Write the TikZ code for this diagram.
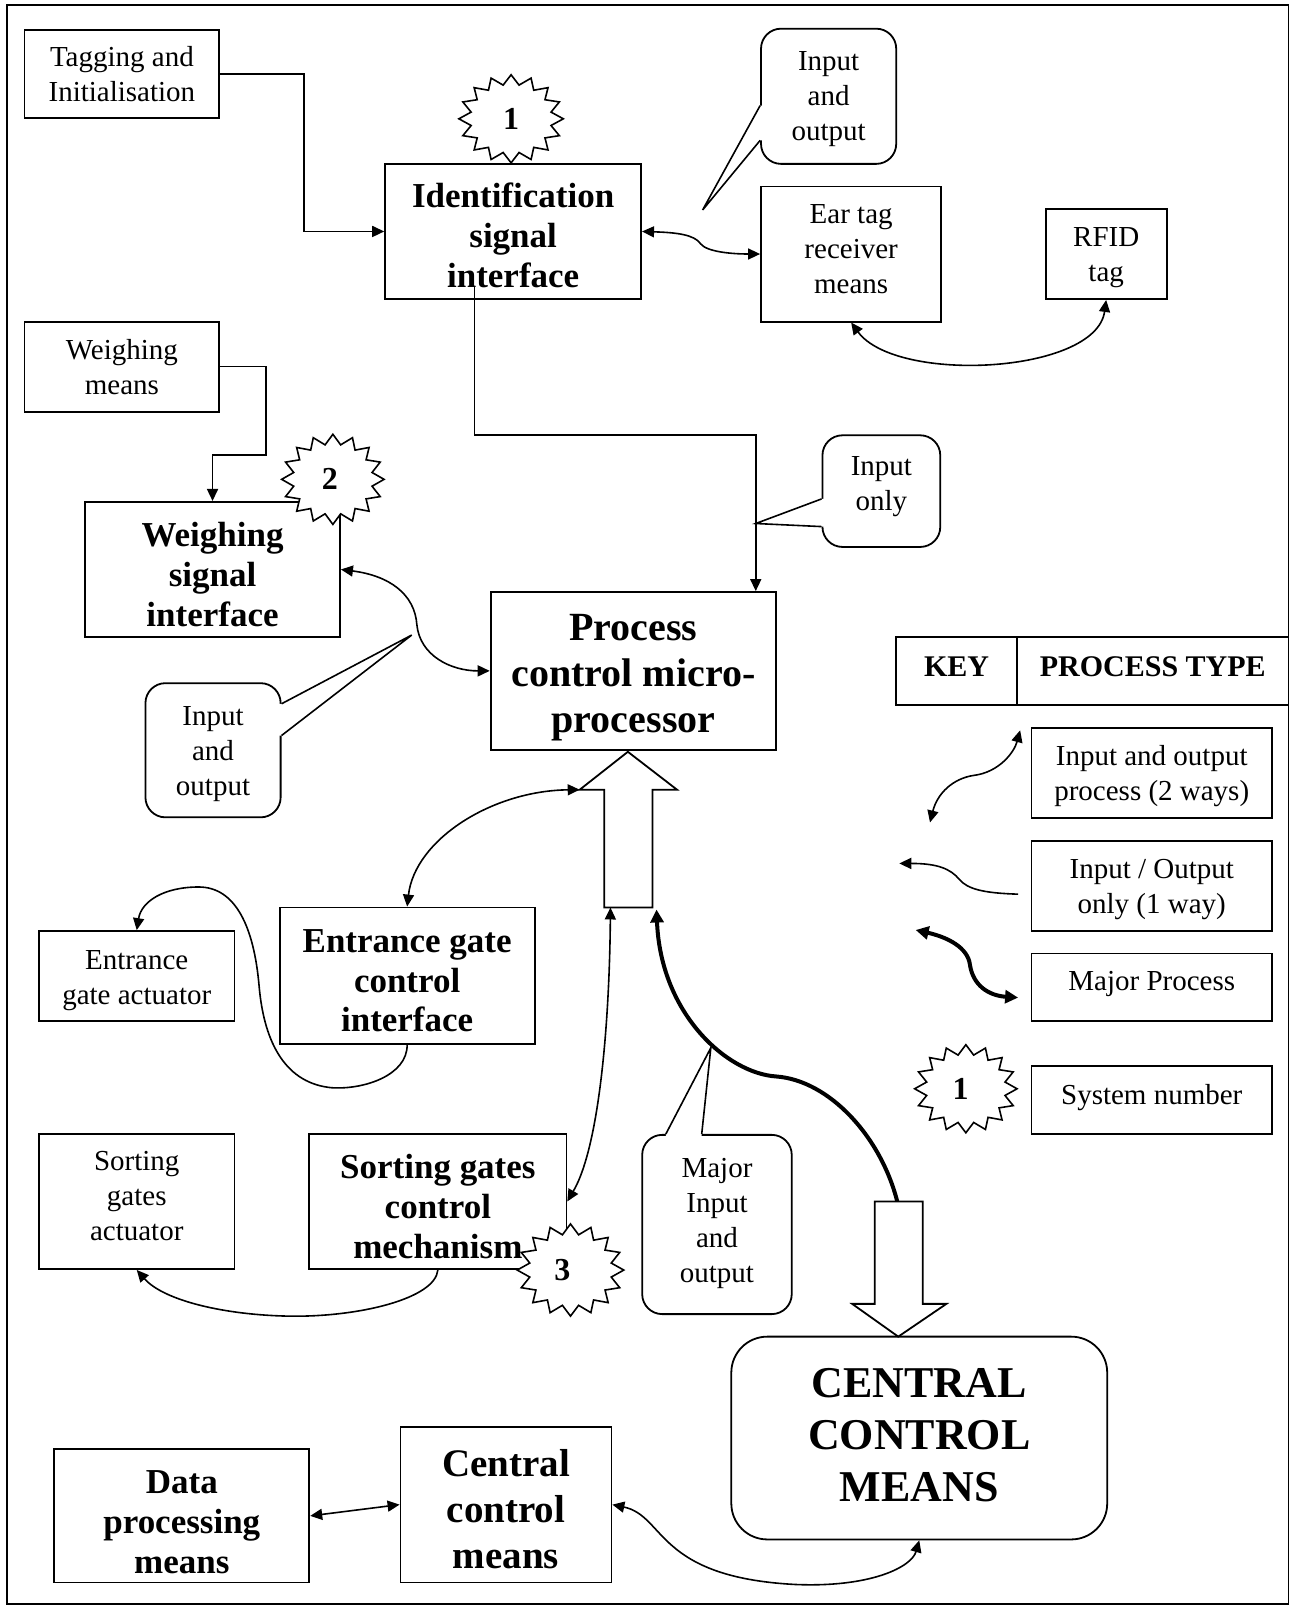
\documentclass[tikz,border=0pt]{standalone}
\usepackage{fontspec}
\setmainfont{Liberation Serif}
\usetikzlibrary{arrows.meta,calc}
\newdimen\myux \myux=0.51225pt
% box with separate text node: [box opts]{name}{x1}{y1}{x2}{y2}{text style}{dy}{text}
\newcommand\bxn[9][]{%
  \node[bx,#1,minimum width={(#5-#3)*\myux},minimum height={(#6-#4)*\myux}] (#2) at ({(#3+#5)/2},{(#4+#6)/2}) {};
  \node[#7,align=center,inner sep=0pt] (#2-t) at ({(#3+#5)/2},{(#4+#6)/2+#8}) {#9};}
% star: {name}{cx}{cy}{rx}{ry}{dx}{digit}
\newcommand\starb[7]{%
  \draw[ln,fill=white,line join=miter] plot[samples at={0,...,31}] ({#2+#4*(0.89+0.11*cos(\x*180))*cos(90+\x*11.25)},{#3+#5*(0.89+0.11*cos(\x*180))*sin(90+\x*11.25)}) -- cycle;
  \node[font=\fontsize{16}{18}\selectfont\bfseries,inner sep=0pt] (#1) at (#2+#6,#3) {#7};}
% callout tail: a1, tip, a2, inward vector
\newcommand\ctail[4]{%
  \fill[white] #1 -- #2 -- #3 -- ($#3+#4$) -- ($#1+#4$) -- cycle;
  \draw[ln,line join=miter] #1 -- #2 -- #3;}
\begin{document}
\begin{tikzpicture}[x=0.51225pt,y=-0.51225pt,
  bx/.style={draw,line width=0.9pt,inner sep=0pt,fill=white},
  rg/.style={font=\fontsize{14.5}{17.5}\selectfont},
  bd/.style={font=\fontsize{17.5}{20}\selectfont\bfseries},
  kf/.style={font=\fontsize{15}{18}\selectfont\bfseries},
  ln/.style={line width=0.8pt},
  arr/.style={ln,-{Triangle[length=6pt,width=5.5pt]}},
  darr/.style={ln,{Triangle[length=6pt,width=5.5pt]}-{Triangle[length=6pt,width=5.5pt]}},
  thk/.style={line width=2pt,-{Triangle[length=6.5pt,width=6.5pt]}},
  thkd/.style={line width=2pt,{Triangle[length=6.5pt,width=6.5pt]}-{Triangle[length=6.5pt,width=6.5pt]}},
  bigarr/.style={line width=0.9pt,fill=white,line join=miter}]
\useasboundingbox (0,0) rectangle (1265,1568);
\draw[line width=0.9pt] (7,5) rectangle (1258,1566);

% boxes
\bxn{tag}{24}{29}{214}{115}{rg}{0}{Tagging and\\Initialisation}
\bxn{ident}{376}{160}{626}{292}{bd}{4}{Identification\\signal\\interface}
\bxn[rounded corners=10pt]{co1}{743}{28}{875}{160}{rg}{3}{Input\\and\\output}
\bxn{ear}{743}{182}{919}{314}{rg}{-5}{Ear tag\\receiver\\means}
\bxn{rfid}{1021}{204}{1139}{292}{rg}{4}{RFID\\tag}
\bxn{wm}{24}{314}{214}{402}{rg}{0}{Weighing\\means}
\bxn{ws}{83}{490}{332}{622}{bd}{5}{Weighing\\signal\\interface}
\bxn[rounded corners=10pt]{co2}{803}{425}{918}{534}{rg}{-4}{Input\\only}
\bxn{proc}{479}{578}{758}{732}{font=\fontsize{20}{23}\selectfont\bfseries}{7}{Process\\control micro-\\processor}
\bxn[rounded corners=10pt]{co3}{142}{667}{274}{798}{rg}{4}{Input\\and\\output}
\bxn{key}{875}{622}{993}{688}{kf}{-4}{KEY}
\bxn{ptype}{993}{622}{1258}{688}{kf}{-4}{PROCESS TYPE}
\bxn{lg1}{1007}{711}{1242}{799}{rg}{3}{Input and output\\process (2 ways)}
\bxn{lg2}{1007}{821}{1242}{909}{rg}{3}{Input / Output\\only (1 way)}
\bxn{lg3}{1007}{931}{1242}{997}{rg}{-3}{Major Process}
\bxn{lg4}{1007}{1041}{1242}{1107}{rg}{-2}{System number}
\bxn{eg}{273}{886}{522}{1019}{bd}{5}{Entrance gate\\control\\interface}
\bxn{ea}{38}{909}{229}{997}{rg}{4}{Entrance\\gate actuator}
\bxn{sa}{38}{1107}{229}{1239}{rg}{-5}{Sorting\\gates\\actuator}
\bxn{sg}{302}{1107}{553}{1239}{bd}{5}{Sorting gates\\control\\mechanism}
\bxn[rounded corners=10pt]{co4}{627}{1108}{773}{1283}{rg}{-1}{Major\\Input\\and\\output}
\bxn[rounded corners=18pt]{cen}{714}{1305}{1081}{1503}{font=\fontsize{22}{26}\selectfont\bfseries}{-3}{CENTRAL\\CONTROL\\MEANS}
\bxn{cc}{391}{1393}{597}{1545}{font=\fontsize{19.5}{23}\selectfont\bfseries}{4}{Central\\control\\means}
\bxn{dp}{53}{1415}{302}{1545}{bd}{6}{Data\\processing\\means}

% callout tails
\coordinate (c1a) at ($(co1.north west)+(0,76)$);
\coordinate (c1b) at ($(co1.north west)+(0,110)$);
\coordinate (c1t) at (686,205);
\ctail{(c1a)}{(c1t)}{(c1b)}{(3,0)}
\coordinate (c2a) at ($(co2.north west)+(0,63)$);
\coordinate (c2b) at ($(co2.north west)+(0,90)$);
\coordinate (c2t) at ($(proc.north east)+(-21,-66)$);
\ctail{(c2a)}{(c2t)}{(c2b)}{(3,0)}
\coordinate (c3a) at ($(co3.north east)+(0,21)$);
\coordinate (c3b) at ($(co3.north east)+(0,52)$);
\coordinate (c3t) at (402,620);
\ctail{(c3a)}{(c3t)}{(c3b)}{(-3,0)}
\coordinate (c4a) at ($(co4.north west)+(24,0)$);
\coordinate (c4b) at ($(co4.north west)+(59,0)$);
\coordinate (c4t) at (694,1023);
\ctail{(c4a)}{(c4t)}{(c4b)}{(0,3)}

% stars
\starb{st1}{499}{116}{51}{43}{0}{1}
\starb{st2}{325}{468}{50}{44}{-3}{2}
\starb{st3}{557}{1240}{52}{45}{-8}{3}
\starb{st4}{943}{1063}{50}{43}{-5}{1}

% big hollow arrows
\draw[bigarr] (590,886) -- (590,771) -- (566,771) -- (613,734) -- (661,771) -- (637,771) -- (637,886) -- cycle;
\coordinate (upL) at (566,771);
\coordinate (upBL) at (596,886);
\coordinate (upBR) at (641,888);
\draw[bigarr] (854,1173) -- (854,1273) -- (832,1273) -- (877,1305) -- (924,1273) -- (901,1273) -- (901,1173) -- cycle;
\coordinate (dnTop) at (876,1173);

% connectors
\draw[arr] (tag.east) -- ++(82,0) |- (ident.west);
\draw[darr] (ident.east) .. controls (660,227) and (678,229) .. (684,238) .. controls (690,246) and (715,248) .. (ear.west);
\draw[darr] (ear.south) .. controls (875,375) and (1070,365) .. (rfid.south);
\draw[arr] ($(ident.south west)+(88,-14)$) -- ++(0,146) -| ($(proc.north east)+(-21,0)$);
\draw[arr] (wm.east) -- ++(45,0) |- ($(ws.north)+(0,-45)$) -- (ws.north);
\draw[darr] (ws.east) .. controls (380,562) and (405,580) .. (407,610) .. controls (410,640) and (440,655) .. (proc.west);
\draw[darr] (upL) .. controls (480,772) and (405,820) .. (eg.north);
\draw[arr] (eg.south) .. controls (398,1050) and (355,1064) .. (324,1062) .. controls (280,1058) and (258,1020) .. (253,963) .. controls (248,905) and (230,866) .. (194,866) .. controls (160,866) and (138,880) .. (ea.north);
\draw[darr] (upBL) .. controls (595,1000) and (585,1120) .. (sg.east);
\draw[thk] (dnTop) .. controls (860,1110) and (810,1055) .. (758,1051) .. controls (710,1048) and (645,990) .. (upBR);
\draw[arr] (sg.south) .. controls (425,1268) and (350,1286) .. (283,1285) .. controls (220,1284) and (160,1270) .. (sa.south);
\draw[darr] (dp.east) -- (cc.west);
\draw[darr] (cc.east) .. controls (650,1480) and (640,1540) .. (777,1547) .. controls (850,1550) and (890,1530) .. (cen.south);

% legend connectors
\coordinate (l1a) at (908,803);
\coordinate (l1b) at (996,713);
\draw[darr] (l1a) .. controls (915,775) and (930,760) .. (951,757) .. controls (975,754) and (990,735) .. (l1b);
\coordinate (l2s) at (994,873);
\coordinate (l2t) at (878,843);
\draw[arr] (l2s) .. controls (960,872) and (945,868) .. (937,859) .. controls (928,848) and (915,843) .. (l2t);
\coordinate (l3a) at (894,908);
\coordinate (l3b) at (994,974);
\draw[thkd] (l3a) .. controls (925,915) and (945,925) .. (947,942) .. controls (950,962) and (965,972) .. (l3b);
\end{tikzpicture}
\end{document}
